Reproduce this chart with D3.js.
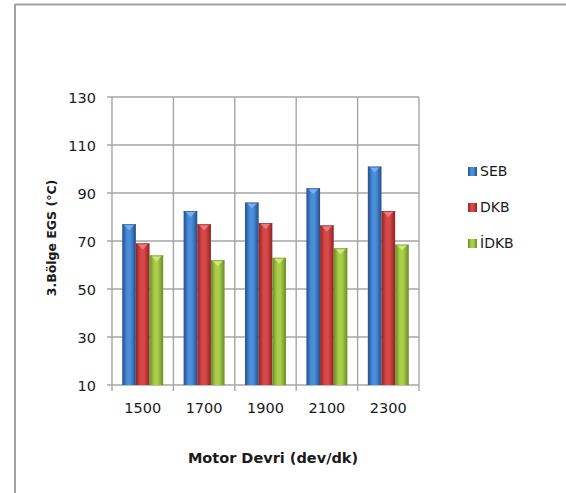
<!DOCTYPE html>
<html>
<head>
<meta charset="utf-8">
<script src="https://cdn.jsdelivr.net/npm/d3@7/dist/d3.min.js"></script>
<style>
  html, body { margin: 0; padding: 0; background: #fff; }
  svg { display: block; }
  text { font-family: "DejaVu Sans", Verdana, sans-serif; fill: #1a1a1a; }
</style>
</head>
<body>
<svg id="chart" width="566" height="493"></svg>
<script>
// Engine speed categories (dev/dk)
const categories = ["1500", "1700", "1900", "2100", "2300"];
// Exhaust gas temperature, region 3 (°C)
const seriesNames = ["SEB", "DKB", "İDKB"];
const sebValues  = [77, 82.5, 86, 92, 101];
const dkbValues  = [69, 77, 77.5, 76.5, 82.5];
const idkbValues = [64, 62, 63, 67, 68.5];
const yTicks = [10, 30, 50, 70, 90, 110, 130];

const seriesValues = [sebValues, dkbValues, idkbValues];
const palette = [
  { edge: "#234f8a", mid: "#4a8ddb", cap: "#7fb4ee" },
  { edge: "#8e2323", mid: "#d94848", cap: "#ee8484" },
  { edge: "#6a8a25", mid: "#a9cf4a", cap: "#d2ec86" }
];

const svg = d3.select("#chart");
const defs = svg.append("defs");

palette.forEach((c, i) => {
  const g = defs.append("linearGradient")
    .attr("id", "grad" + i).attr("x1", "0").attr("x2", "1").attr("y1", "0").attr("y2", "0");
  g.append("stop").attr("offset", "0%").attr("stop-color", c.edge);
  g.append("stop").attr("offset", "35%").attr("stop-color", c.mid);
  g.append("stop").attr("offset", "60%").attr("stop-color", c.mid);
  g.append("stop").attr("offset", "100%").attr("stop-color", c.edge);
});

// Outer frame (left and top edges)
svg.append("line").attr("x1", 15).attr("x2", 15).attr("y1", 4).attr("y2", 493)
  .attr("stroke", "#a0a0a0").attr("stroke-width", 2);
svg.append("line").attr("x1", 15).attr("x2", 566).attr("y1", 4.5).attr("y2", 4.5)
  .attr("stroke", "#a0a0a0").attr("stroke-width", 2);

const plot = { left: 112, right: 419, top: 97, bottom: 385 };

const x = d3.scaleBand().domain(categories).range([plot.left, plot.right]);
const y = d3.scaleLinear().domain([10, 130]).range([plot.bottom, plot.top]);
const xs = d3.scaleBand().domain(seriesNames).range([0, x.bandwidth()]).paddingOuter(0.75).paddingInner(0);

const gridColor = "#a6a6a6";

// Horizontal gridlines
svg.append("g").selectAll("line").data(yTicks).join("line")
  .attr("x1", plot.left - 5).attr("x2", plot.right)
  .attr("y1", d => y(d)).attr("y2", d => y(d))
  .attr("stroke", gridColor).attr("stroke-width", 1.4);

// Vertical gridlines at category boundaries
const bounds = categories.map(c => x(c)).concat([x(categories[categories.length - 1]) + x.bandwidth()]);
svg.append("g").selectAll("line").data(bounds).join("line")
  .attr("x1", d => d).attr("x2", d => d)
  .attr("y1", plot.top).attr("y2", plot.bottom + 6)
  .attr("stroke", gridColor).attr("stroke-width", 1.4);

// Y axis labels
const yAxis = d3.axisLeft(y).tickValues(yTicks).tickSize(0).tickPadding(16);
const yg = svg.append("g").attr("transform", `translate(${plot.left},0)`).call(yAxis);
yg.select(".domain").remove();
yg.selectAll("text").attr("font-size", "14.5px").attr("font-family", "DejaVu Sans").attr("fill", "#1a1a1a")
  .attr("dy", "0.36em");

// X axis labels
const xAxis = d3.axisBottom(x).tickSize(0).tickPadding(18);
const xg = svg.append("g").attr("transform", `translate(0,${plot.bottom})`).call(xAxis);
xg.select(".domain").remove();
xg.selectAll("text").attr("font-size", "14.5px").attr("font-family", "DejaVu Sans").attr("fill", "#1a1a1a");

// Bars
const groups = svg.append("g").selectAll("g").data(categories).join("g")
  .attr("transform", d => `translate(${x(d)},0)`);

groups.each(function(cat, ci) {
  const g = d3.select(this);
  seriesNames.forEach((s, si) => {
    const v = seriesValues[si][ci];
    const bx = xs(s), bw = xs.bandwidth();
    const top = y(v);
    g.append("rect")
      .attr("x", bx).attr("y", top)
      .attr("width", bw).attr("height", y(10) - top)
      .attr("fill", `url(#grad${si})`);
    // Top cap highlight
    g.append("path")
      .attr("d", `M${bx + 1},${top} L${bx + bw - 1},${top} L${bx + bw / 2},${top + 6} Z`)
      .attr("fill", palette[si].cap).attr("opacity", 0.85);
    g.append("line")
      .attr("x1", bx).attr("x2", bx + bw).attr("y1", top + 0.5).attr("y2", top + 0.5)
      .attr("stroke", palette[si].edge).attr("stroke-width", 1).attr("opacity", 0.6);
  });
});

// Axis titles
svg.append("text")
  .attr("x", 273).attr("y", 463)
  .attr("text-anchor", "middle")
  .attr("font-size", "14.5px").attr("font-weight", "bold")
  .text("Motor Devri (dev/dk)");

svg.append("text")
  .attr("transform", "translate(56,238) rotate(-90)")
  .attr("text-anchor", "middle")
  .attr("font-size", "12.5px").attr("font-weight", "bold")
  .text("3.Bölge EGS (°C)");

// Legend
const legend = svg.append("g").selectAll("g").data(seriesNames).join("g")
  .attr("transform", (d, i) => `translate(468,${167 + i * 36})`);
legend.append("rect").attr("width", 9).attr("height", 9)
  .attr("fill", (d, i) => `url(#grad${i})`);
legend.append("text").attr("x", 12).attr("y", 9)
  .attr("font-size", "14px")
  .text(d => d);
</script>
</body>
</html>
